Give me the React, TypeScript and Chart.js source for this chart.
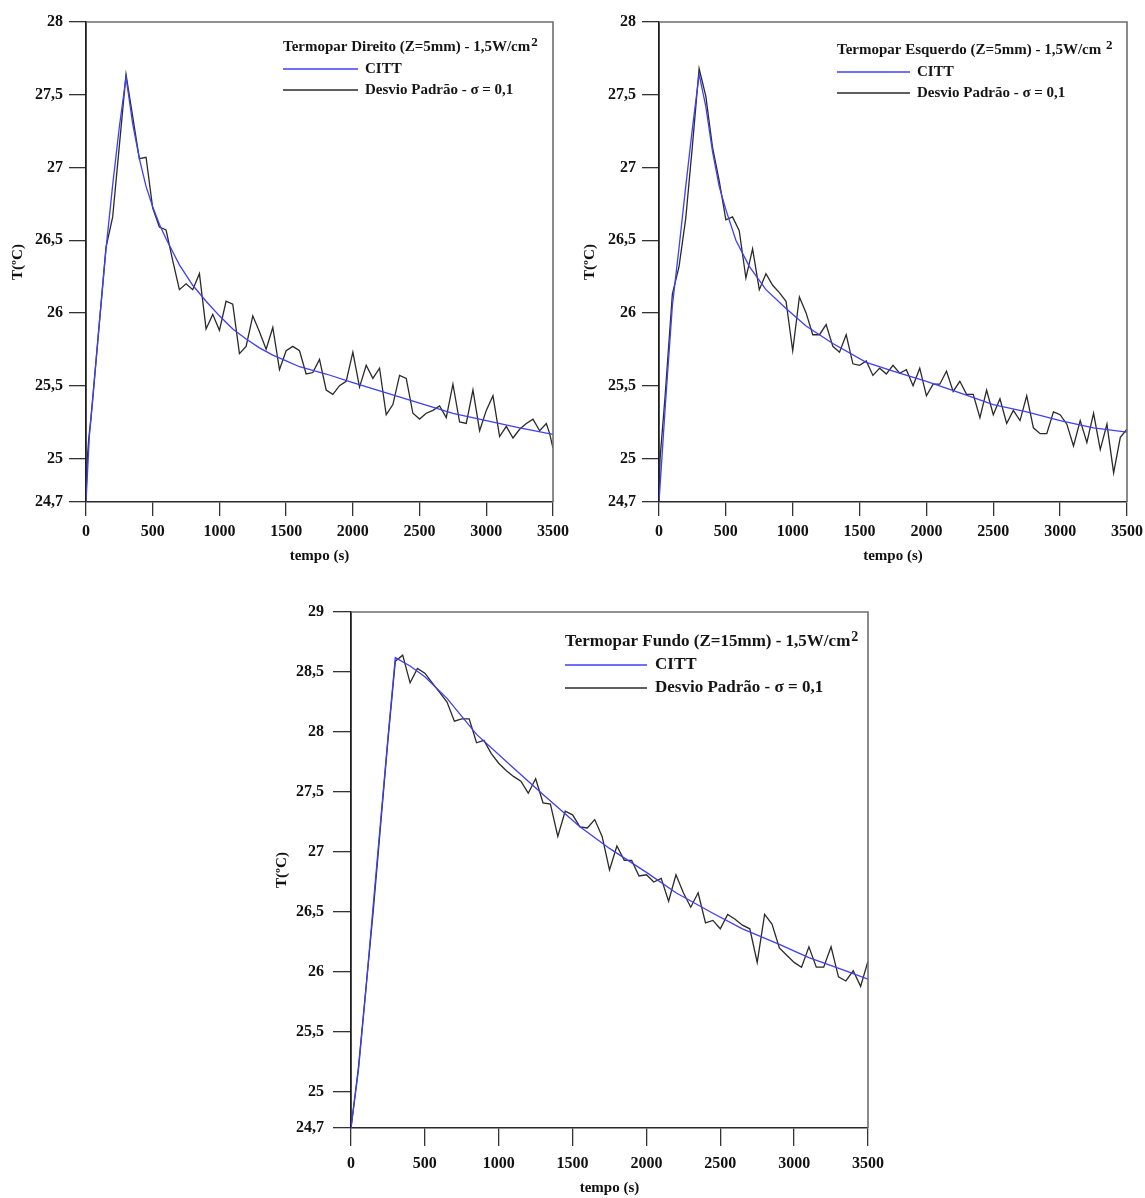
import React, { useEffect, useRef } from "react";
import { Chart, registerables } from "chart.js";

Chart.register(...registerables);

// ---------- shared ticks ----------
const xTickValues = [0, 500, 1000, 1500, 2000, 2500, 3000, 3500];
const yTicksTop = [24.7, 25, 25.5, 26, 26.5, 27, 27.5, 28];
const yTicksBottom = [24.7, 25, 25.5, 26, 26.5, 27, 27.5, 28, 28.5, 29];

// ---------- chart 1: Termopar Direito ----------
const t1Citt = [0, 25, 50, 100, 150, 200, 250, 300, 350, 400, 450, 500, 550, 600, 650, 700, 800, 900, 1000, 1100, 1200, 1300, 1400, 1500, 1600, 1800, 2000, 2250, 2500, 2750, 3000, 3250, 3500];
const v1Citt = [24.7, 25.15, 25.4, 25.93, 26.44, 26.88, 27.28, 27.62, 27.3, 27.06, 26.87, 26.73, 26.61, 26.51, 26.42, 26.33, 26.19, 26.08, 25.98, 25.89, 25.82, 25.76, 25.71, 25.67, 25.63, 25.58, 25.52, 25.45, 25.38, 25.31, 25.26, 25.21, 25.165];
const t1Noisy = [0, 10, 20, 35, 47, 150, 200, 250, 300, 350, 400, 450, 500, 550, 600, 650, 700, 750, 800, 850, 900, 950, 1000, 1050, 1100, 1150, 1200, 1250, 1300, 1350, 1400, 1450, 1500, 1550, 1600, 1650, 1700, 1750, 1800, 1850, 1900, 1950, 2000, 2050, 2100, 2150, 2200, 2250, 2300, 2350, 2400, 2450, 2500, 2550, 2600, 2650, 2700, 2750, 2800, 2850, 2900, 2950, 3000, 3050, 3100, 3150, 3200, 3250, 3300, 3350, 3400, 3450, 3475, 3500];
const v1Noisy = [24.74, 25.0, 25.13, 25.26, 25.38, 26.45, 26.66, 27.15, 27.64, 27.35, 27.06, 27.07, 26.72, 26.59, 26.57, 26.36, 26.16, 26.2, 26.16, 26.27, 25.89, 25.99, 25.88, 26.08, 26.06, 25.72, 25.77, 25.98, 25.87, 25.75, 25.9, 25.61, 25.74, 25.77, 25.74, 25.58, 25.59, 25.68, 25.47, 25.44, 25.5, 25.53, 25.73, 25.49, 25.64, 25.55, 25.62, 25.3, 25.37, 25.57, 25.55, 25.31, 25.27, 25.31, 25.33, 25.36, 25.28, 25.51, 25.25, 25.24, 25.47, 25.19, 25.33, 25.43, 25.15, 25.22, 25.14, 25.2, 25.24, 25.27, 25.19, 25.24, 25.17, 25.07];

// ---------- chart 2: Termopar Esquerdo ----------
const t2Citt = [0, 25, 50, 100, 150, 200, 250, 300, 350, 400, 450, 500, 575, 675, 800, 950, 1100, 1300, 1550, 1750, 2000, 2250, 2500, 2750, 3000, 3250, 3500];
const v2Citt = [24.7, 25.05, 25.4, 26.05, 26.45, 26.87, 27.27, 27.64, 27.42, 27.11, 26.87, 26.71, 26.5, 26.32, 26.16, 26.03, 25.91, 25.79, 25.66, 25.6, 25.53, 25.45, 25.37, 25.32, 25.26, 25.21, 25.18];
const t2Noisy = [0, 8, 45, 100, 150, 200, 250, 300, 350, 400, 450, 500, 550, 600, 650, 700, 750, 800, 850, 900, 950, 1000, 1050, 1100, 1150, 1200, 1250, 1300, 1350, 1400, 1450, 1500, 1550, 1600, 1650, 1700, 1750, 1800, 1850, 1900, 1950, 2000, 2050, 2100, 2150, 2200, 2250, 2300, 2350, 2400, 2450, 2500, 2550, 2600, 2650, 2700, 2750, 2800, 2850, 2900, 2950, 3000, 3050, 3100, 3150, 3200, 3250, 3300, 3350, 3400, 3450, 3500];
const v2Noisy = [24.72, 25.0, 25.42, 26.13, 26.32, 26.65, 27.15, 27.68, 27.49, 27.14, 26.91, 26.64, 26.66, 26.565, 26.24, 26.44, 26.16, 26.27, 26.19, 26.14, 26.08, 25.74, 26.11, 26.0, 25.85, 25.85, 25.92, 25.77, 25.73, 25.85, 25.65, 25.64, 25.67, 25.57, 25.62, 25.58, 25.64, 25.585, 25.61, 25.5, 25.62, 25.43, 25.51, 25.51, 25.6, 25.46, 25.53, 25.44, 25.44, 25.28, 25.47, 25.3, 25.41, 25.24, 25.33, 25.26, 25.43, 25.21, 25.17, 25.17, 25.32, 25.3, 25.235, 25.085, 25.26, 25.11, 25.31, 25.06, 25.235, 24.9, 25.145, 25.2];

// ---------- chart 3: Termopar Fundo ----------
const t3Citt = [0, 50, 100, 150, 200, 250, 300, 400, 500, 650, 850, 1100, 1300, 1550, 1750, 2000, 2200, 2450, 2650, 2900, 3100, 3350, 3500];
const v3Citt = [24.7, 25.18, 25.84, 26.55, 27.25, 27.95, 28.62, 28.55, 28.46, 28.28, 27.98, 27.7, 27.48, 27.21, 27.03, 26.83, 26.66, 26.49, 26.36, 26.23, 26.12, 26.01, 25.94];
const t3Noisy = [0, 50, 100, 150, 200, 250, 300, 350, 400, 450, 500, 550, 600, 650, 700, 750, 800, 850, 900, 950, 1000, 1050, 1100, 1150, 1200, 1250, 1300, 1350, 1400, 1450, 1500, 1550, 1600, 1650, 1700, 1750, 1800, 1850, 1900, 1950, 2000, 2050, 2100, 2150, 2200, 2250, 2300, 2350, 2400, 2450, 2500, 2550, 2600, 2650, 2700, 2750, 2800, 2850, 2900, 2950, 3000, 3050, 3100, 3150, 3200, 3250, 3300, 3350, 3400, 3450, 3500];
const v3Noisy = [24.7, 25.2, 25.85, 26.5, 27.22, 27.93, 28.59, 28.64, 28.41, 28.53, 28.49, 28.41, 28.33, 28.25, 28.09, 28.11, 28.11, 27.91, 27.93, 27.82, 27.74, 27.68, 27.63, 27.59, 27.49, 27.61, 27.41, 27.4, 27.13, 27.34, 27.31, 27.21, 27.2, 27.27, 27.13, 26.85, 27.05, 26.93, 26.93, 26.8, 26.81, 26.75, 26.78, 26.59, 26.81, 26.66, 26.54, 26.66, 26.41, 26.43, 26.36, 26.48, 26.44, 26.39, 26.36, 26.08, 26.48, 26.4, 26.2, 26.14, 26.08, 26.04, 26.21, 26.04, 26.04, 26.21, 25.96, 25.925, 26.01, 25.88, 26.09];

// ---------- texts ----------
const seriesCitt = "CITT";
const seriesNoisy = "Desvio Padrão - σ = 0,1";
const title1 = "Termopar Direito (Z=5mm) - 1,5W/cm";
const title2 = "Termopar Esquerdo (Z=5mm) - 1,5W/cm ";
const title3 = "Termopar Fundo (Z=15mm) - 1,5W/cm";
const titleSup = "2";
const xTitle = "tempo (s)";
const yTitle = "T(ºC)";

const FONT = '"Liberation Serif", "Times New Roman", serif';
const BLUE = "#3f3ff4";
const DARK = "#2a2a2a";

type Cfg = {
  areaLeft: number;
  padTop: number;
  padRight: number;
  xAxisH: number;
  yMin: number;
  yMax: number;
  yTicks: number[];
  tCitt: number[];
  vCitt: number[];
  tNoisy: number[];
  vNoisy: number[];
  yTickLen: number;
  xTickLen: number;
  yTickPad: number;
  xTickPad: number;
  yTitlePad: number;
  xTitlePad: number;
  legend: { title: string; x: number; y: number; row1: number; row2: number; lineEnd: number; labelX: number; size: number };
};

const zip = (t: number[], v: number[]) => {
  const n = Math.min(t.length, v.length);
  const out: { x: number; y: number }[] = [];
  for (let i = 0; i < n; i++) out.push({ x: t[i], y: v[i] });
  return out;
};

function makeChart(canvas: HTMLCanvasElement, c: Cfg) {
  const overlay = {
    id: "frameLegend",
    afterDraw(chart: any) {
      const { ctx, chartArea: a } = chart;
      ctx.save();
      ctx.strokeStyle = "#6e6e6e";
      ctx.lineWidth = 1.6;
      ctx.beginPath();
      ctx.moveTo(a.left, a.top);
      ctx.lineTo(a.right, a.top);
      ctx.lineTo(a.right, a.bottom);
      ctx.stroke();

      const L = c.legend;
      ctx.fillStyle = "#151515";
      ctx.textAlign = "left";
      ctx.textBaseline = "middle";
      ctx.font = `bold ${L.size}px ${FONT}`;
      ctx.fillText(L.title, L.x, L.y);
      const w = ctx.measureText(L.title).width;
      ctx.font = `bold ${Math.round(L.size * 0.85)}px ${FONT}`;
      ctx.fillText(titleSup, L.x + w + 1, L.y - L.size * 0.3);

      ctx.lineWidth = 1.4;
      ctx.strokeStyle = BLUE;
      ctx.beginPath();
      ctx.moveTo(L.x, L.row1);
      ctx.lineTo(L.lineEnd, L.row1);
      ctx.stroke();
      ctx.strokeStyle = DARK;
      ctx.beginPath();
      ctx.moveTo(L.x, L.row2);
      ctx.lineTo(L.lineEnd, L.row2);
      ctx.stroke();
      ctx.font = `bold ${L.size}px ${FONT}`;
      ctx.fillText(seriesCitt, L.labelX, L.row1);
      ctx.fillText(seriesNoisy, L.labelX, L.row2);
      ctx.restore();
    },
  };

  return new Chart(canvas, {
    type: "line",
    data: {
      datasets: [
        {
          label: seriesCitt,
          data: zip(c.tCitt, c.vCitt),
          borderColor: BLUE,
          borderWidth: 1.3,
          pointRadius: 0,
          tension: 0,
        },
        {
          label: seriesNoisy,
          data: zip(c.tNoisy, c.vNoisy),
          borderColor: DARK,
          borderWidth: 1.3,
          pointRadius: 0,
          tension: 0,
        },
      ],
    },
    options: {
      animation: false,
      responsive: false,
      maintainAspectRatio: false,
      events: [],
      layout: { padding: { left: 0, top: c.padTop, right: c.padRight, bottom: 0 } },
      plugins: { legend: { display: false }, tooltip: { enabled: false } },
      scales: {
        x: {
          type: "linear",
          min: 0,
          max: 3500,
          afterBuildTicks: (s: any) => {
            s.ticks = xTickValues.map((v) => ({ value: v }));
          },
          afterFit: (s: any) => {
            s.height = c.xAxisH;
          },
          ticks: {
            autoSkip: false,
            maxRotation: 0,
            color: "#111",
            padding: c.xTickPad,
            font: { family: FONT, size: 16, weight: "bold" },
            callback: (v: any) => String(Math.round(Number(v))),
          },
          grid: { drawOnChartArea: false, drawTicks: true, tickLength: c.xTickLen, color: "#333", lineWidth: 1.3 },
          border: { display: true, color: "#2a2a2a", width: 1.6 },
          title: {
            display: true,
            text: xTitle,
            color: "#111",
            padding: { top: 0, bottom: c.xTitlePad },
            font: { family: FONT, size: 15, weight: "bold" },
          },
        },
        y: {
          type: "linear",
          min: c.yMin,
          max: c.yMax,
          afterBuildTicks: (s: any) => {
            s.ticks = c.yTicks.map((v) => ({ value: v }));
          },
          afterFit: (s: any) => {
            s.width = c.areaLeft;
          },
          ticks: {
            autoSkip: false,
            color: "#111",
            padding: c.yTickPad,
            font: { family: FONT, size: 16, weight: "bold" },
            callback: (v: any) => String(Math.round(Number(v) * 10) / 10).replace(".", ","),
          },
          grid: { drawOnChartArea: false, drawTicks: true, tickLength: c.yTickLen, color: "#333", lineWidth: 1.3 },
          border: { display: true, color: "#1e1e1e", width: 1.8 },
          title: {
            display: true,
            text: yTitle,
            color: "#111",
            padding: { top: c.yTitlePad, bottom: 0 },
            font: { family: FONT, size: 15, weight: "bold" },
          },
        },
      },
    },
    plugins: [overlay as any],
  } as any);
}

const cfg1: Cfg = {
  areaLeft: 86, padTop: 22, padRight: 24, xAxisH: 73,
  yMin: 24.7, yMax: 28, yTicks: yTicksTop,
  tCitt: t1Citt, vCitt: v1Citt, tNoisy: t1Noisy, vNoisy: v1Noisy,
  yTickLen: 17, xTickLen: 14, yTickPad: 6, xTickPad: 6, yTitlePad: 9, xTitlePad: 10,
  legend: { title: title1, x: 283, y: 47, row1: 69, row2: 90, lineEnd: 358, labelX: 365, size: 15 },
};

const cfg2: Cfg = {
  areaLeft: 87, padTop: 22, padRight: 24, xAxisH: 73,
  yMin: 24.7, yMax: 28, yTicks: yTicksTop,
  tCitt: t2Citt, vCitt: v2Citt, tNoisy: t2Noisy, vNoisy: v2Noisy,
  yTickLen: 17, xTickLen: 14, yTickPad: 6, xTickPad: 6, yTitlePad: 9, xTitlePad: 10,
  legend: { title: title2, x: 265, y: 50, row1: 72, row2: 93, lineEnd: 338, labelX: 345, size: 15 },
};

const cfg3: Cfg = {
  areaLeft: 91, padTop: 22, padRight: 24, xAxisH: 70,
  yMin: 24.7, yMax: 29, yTicks: yTicksBottom,
  tCitt: t3Citt, vCitt: v3Citt, tNoisy: t3Noisy, vNoisy: v3Noisy,
  yTickLen: 18, xTickLen: 18, yTickPad: 9, xTickPad: 8, yTitlePad: 13, xTitlePad: 1,
  legend: { title: title3, x: 305, y: 52, row1: 75, row2: 98, lineEnd: 387, labelX: 395, size: 17 },
};

export default function App() {
  const r1 = useRef<HTMLCanvasElement>(null);
  const r2 = useRef<HTMLCanvasElement>(null);
  const r3 = useRef<HTMLCanvasElement>(null);

  useEffect(() => {
    const charts = [
      makeChart(r1.current as HTMLCanvasElement, cfg1),
      makeChart(r2.current as HTMLCanvasElement, cfg2),
      makeChart(r3.current as HTMLCanvasElement, cfg3),
    ];
    return () => charts.forEach((ch) => ch.destroy());
  }, []);

  return (
    <div style={{ position: "absolute", left: 0, top: 0, width: 1145, height: 1198, background: "#fff", overflow: "hidden" }}>
      <canvas ref={r1} width={577} height={575} style={{ position: "absolute", left: 0, top: 0 }} />
      <canvas ref={r2} width={579} height={575} style={{ position: "absolute", left: 572, top: 0 }} />
      <canvas ref={r3} width={632} height={608} style={{ position: "absolute", left: 260, top: 590 }} />
    </div>
  );
}
